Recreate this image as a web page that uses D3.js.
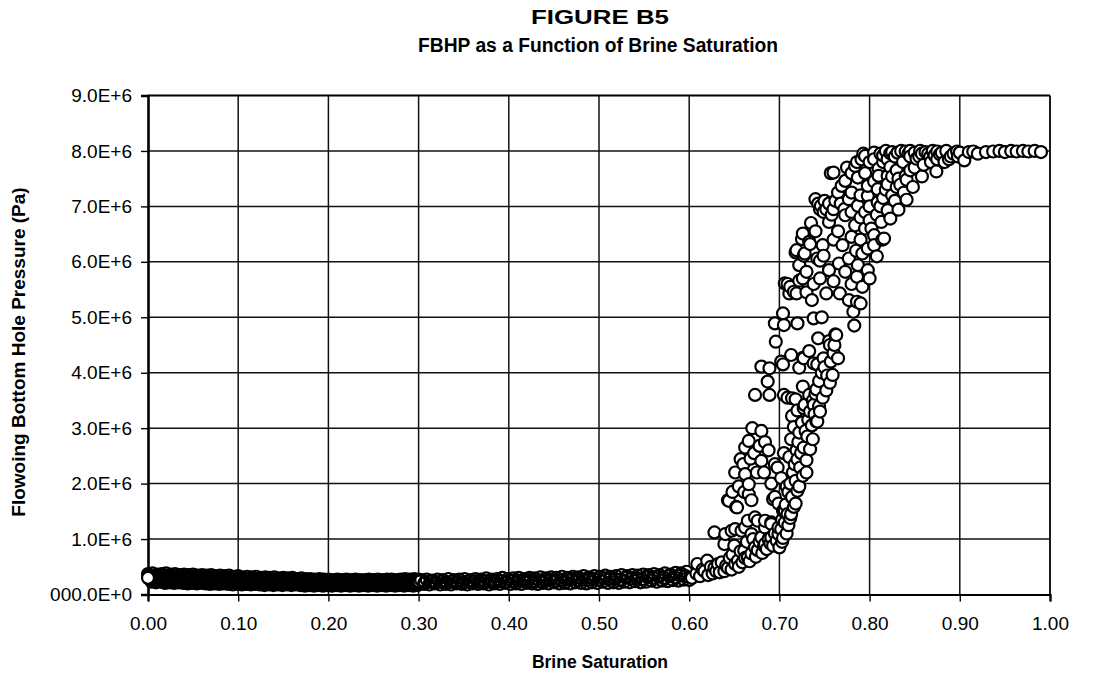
<!DOCTYPE html>
<html>
<head>
<meta charset="utf-8">
<script src="https://cdn.jsdelivr.net/npm/d3@7"></script>
<style>
  body { margin: 0; background: #fff; }
  svg { display: block; }
  text { font-family: "Liberation Sans", Arial, sans-serif; fill: #000; }
</style>
</head>
<body>
<svg id="chart" width="1096" height="675"></svg>
<script>
// Titles and axis labels
const titleLines = ["FIGURE B5", "FBHP as a Function of Brine Saturation"];
const xAxisTitle = "Brine Saturation";
const yAxisTitle = "Flowoing Bottom Hole Pressure (Pa)";

// Tick values and their printed labels
const xTickValues = [0, 0.1, 0.2, 0.3, 0.4, 0.5, 0.6, 0.7, 0.8, 0.9, 1.0];
const xTickLabels = ["0.00", "0.10", "0.20", "0.30", "0.40", "0.50", "0.60", "0.70", "0.80", "0.90", "1.00"];
const yTickValues = [0, 1e6, 2e6, 3e6, 4e6, 5e6, 6e6, 7e6, 8e6, 9e6];
const yTickLabels = ["000.0E+0", "1.0E+6", "2.0E+6", "3.0E+6", "4.0E+6", "5.0E+6", "6.0E+6", "7.0E+6", "8.0E+6", "9.0E+6"];

// Samples: [brine saturation, flowing bottom hole pressure in MPa]
// Low-saturation band (0.00 - 0.30), five overlapping streaks
const lowBandUpper = [
  [0.000,0.37],[0.005,0.38],[0.010,0.36],[0.015,0.37],[0.020,0.38],[0.025,0.36],[0.030,0.37],[0.035,0.35],
  [0.040,0.36],[0.045,0.35],[0.050,0.36],[0.055,0.34],[0.060,0.35],[0.065,0.34],[0.070,0.35],[0.075,0.33],
  [0.080,0.34],[0.085,0.33],[0.090,0.34],[0.095,0.32],[0.100,0.33],[0.105,0.31],[0.110,0.32],[0.115,0.31],
  [0.120,0.32],[0.125,0.30],[0.130,0.31],[0.135,0.30],[0.140,0.31],[0.145,0.29],[0.150,0.30],[0.155,0.29],
  [0.160,0.30],[0.165,0.28],[0.170,0.29],[0.175,0.28],[0.180,0.28],[0.185,0.27],[0.190,0.28],[0.195,0.27],
  [0.200,0.27],[0.205,0.26],[0.210,0.27],[0.215,0.26],[0.220,0.27],[0.225,0.26],[0.230,0.27],[0.235,0.26],
  [0.240,0.26],[0.245,0.27],[0.250,0.26],[0.255,0.27],[0.260,0.26],[0.265,0.27],[0.270,0.27],[0.275,0.26],
  [0.280,0.27],[0.285,0.28],[0.290,0.27],[0.295,0.28],[0.300,0.27]
];
const lowBandUpperMid = [
  [0.001,0.34],[0.006,0.33],[0.011,0.33],[0.016,0.34],[0.021,0.32],[0.026,0.33],[0.031,0.32],[0.036,0.31],
  [0.041,0.32],[0.046,0.31],[0.051,0.32],[0.056,0.30],[0.061,0.31],[0.066,0.30],[0.071,0.31],[0.076,0.29],
  [0.081,0.30],[0.086,0.29],[0.091,0.30],[0.096,0.28],[0.101,0.29],[0.106,0.28],[0.111,0.28],[0.116,0.27],
  [0.121,0.28],[0.126,0.27],[0.131,0.27],[0.136,0.26],[0.141,0.27],[0.146,0.26],[0.151,0.26],[0.156,0.25],
  [0.161,0.26],[0.166,0.25],[0.171,0.25],[0.176,0.24],[0.181,0.25],[0.186,0.24],[0.191,0.24],[0.196,0.25],
  [0.201,0.24],[0.206,0.24],[0.211,0.23],[0.216,0.24],[0.221,0.24],[0.226,0.23],[0.231,0.24],[0.236,0.24],
  [0.241,0.23],[0.246,0.24],[0.251,0.24],[0.256,0.23],[0.261,0.24],[0.266,0.24],[0.271,0.23],[0.276,0.24],
  [0.281,0.25],[0.286,0.24],[0.291,0.24],[0.296,0.25]
];
const lowBandMiddle = [
  [0.002,0.30],[0.007,0.28],[0.012,0.30],[0.017,0.29],[0.022,0.28],[0.027,0.29],[0.032,0.28],[0.037,0.27],
  [0.042,0.28],[0.047,0.27],[0.052,0.28],[0.057,0.26],[0.062,0.27],[0.067,0.26],[0.072,0.27],[0.077,0.25],
  [0.082,0.26],[0.087,0.25],[0.092,0.26],[0.097,0.24],[0.102,0.25],[0.107,0.24],[0.112,0.25],[0.117,0.24],
  [0.122,0.23],[0.127,0.24],[0.132,0.23],[0.137,0.24],[0.142,0.23],[0.147,0.22],[0.152,0.23],[0.157,0.22],
  [0.162,0.23],[0.167,0.22],[0.172,0.21],[0.177,0.22],[0.182,0.21],[0.187,0.22],[0.192,0.21],[0.197,0.22],
  [0.202,0.21],[0.207,0.22],[0.212,0.21],[0.217,0.20],[0.222,0.21],[0.227,0.22],[0.232,0.21],[0.237,0.20],
  [0.242,0.21],[0.247,0.22],[0.252,0.21],[0.257,0.20],[0.262,0.21],[0.267,0.22],[0.272,0.21],[0.277,0.22],
  [0.282,0.21],[0.287,0.22],[0.292,0.21],[0.297,0.22]
];
const lowBandLowerMid = [
  [0.003,0.26],[0.008,0.25],[0.013,0.26],[0.018,0.25],[0.023,0.25],[0.028,0.24],[0.033,0.25],[0.038,0.24],
  [0.043,0.24],[0.048,0.23],[0.053,0.24],[0.058,0.23],[0.063,0.23],[0.068,0.22],[0.073,0.23],[0.078,0.22],
  [0.083,0.22],[0.088,0.21],[0.093,0.22],[0.098,0.21],[0.103,0.21],[0.108,0.20],[0.113,0.21],[0.118,0.20],
  [0.123,0.20],[0.128,0.20],[0.133,0.19],[0.138,0.20],[0.143,0.19],[0.148,0.19],[0.153,0.20],[0.158,0.19],
  [0.163,0.19],[0.168,0.18],[0.173,0.19],[0.178,0.18],[0.183,0.19],[0.188,0.18],[0.193,0.18],[0.198,0.19],
  [0.203,0.18],[0.208,0.19],[0.213,0.18],[0.218,0.18],[0.223,0.19],[0.228,0.18],[0.233,0.19],[0.238,0.18],
  [0.243,0.19],[0.248,0.18],[0.253,0.19],[0.258,0.18],[0.263,0.19],[0.268,0.19],[0.273,0.18],[0.278,0.19],
  [0.283,0.19],[0.288,0.18],[0.293,0.19],[0.298,0.19]
];
const lowBandLower = [
  [0.004,0.23],[0.009,0.22],[0.014,0.23],[0.019,0.21],[0.024,0.22],[0.029,0.21],[0.034,0.22],[0.039,0.21],
  [0.044,0.20],[0.049,0.21],[0.054,0.20],[0.059,0.21],[0.064,0.20],[0.069,0.19],[0.074,0.20],[0.079,0.19],
  [0.084,0.20],[0.089,0.19],[0.094,0.18],[0.099,0.19],[0.104,0.18],[0.109,0.19],[0.114,0.18],[0.119,0.19],
  [0.124,0.18],[0.129,0.17],[0.134,0.18],[0.139,0.17],[0.144,0.18],[0.149,0.17],[0.154,0.18],[0.159,0.17],
  [0.164,0.18],[0.169,0.17],[0.174,0.16],[0.179,0.17],[0.184,0.16],[0.189,0.17],[0.194,0.16],[0.199,0.17],
  [0.204,0.16],[0.209,0.17],[0.214,0.16],[0.219,0.17],[0.224,0.16],[0.229,0.17],[0.234,0.16],[0.239,0.17],
  [0.244,0.16],[0.249,0.17],[0.254,0.16],[0.259,0.17],[0.264,0.16],[0.269,0.17],[0.274,0.16],[0.279,0.17],
  [0.284,0.16],[0.289,0.17],[0.294,0.16],[0.299,0.17]
];
// Mid-saturation band (0.30 - 0.60)
const midBandUpper = [
  [0.303,0.26],[0.309,0.27],[0.315,0.25],[0.321,0.27],[0.327,0.26],[0.333,0.28],[0.339,0.26],[0.345,0.27],
  [0.351,0.28],[0.357,0.26],[0.363,0.28],[0.369,0.27],[0.375,0.29],[0.381,0.27],[0.387,0.28],[0.393,0.30],
  [0.399,0.28],[0.405,0.29],[0.411,0.30],[0.417,0.28],[0.423,0.30],[0.429,0.29],[0.435,0.31],[0.441,0.29],
  [0.447,0.31],[0.453,0.30],[0.459,0.32],[0.465,0.30],[0.471,0.32],[0.477,0.31],[0.483,0.33],[0.489,0.31],
  [0.495,0.33],[0.501,0.32],[0.507,0.34],[0.513,0.32],[0.519,0.33],[0.525,0.35],[0.531,0.33],[0.537,0.35],
  [0.543,0.34],[0.549,0.36],[0.555,0.35],[0.561,0.37],[0.567,0.35],[0.573,0.38],[0.579,0.36],[0.585,0.39],
  [0.591,0.38],[0.597,0.41]
];
const midBandMiddle = [
  [0.301,0.23],[0.307,0.22],[0.313,0.23],[0.319,0.22],[0.325,0.23],[0.331,0.22],[0.337,0.23],[0.343,0.23],
  [0.349,0.22],[0.355,0.23],[0.361,0.24],[0.367,0.23],[0.373,0.24],[0.379,0.23],[0.385,0.24],[0.391,0.24],
  [0.397,0.23],[0.410,0.25],[0.422,0.26],[0.434,0.25],[0.446,0.27],[0.458,0.26],[0.470,0.28],[0.482,0.27],
  [0.494,0.28],[0.506,0.29],[0.518,0.28],[0.530,0.30],[0.542,0.29],[0.554,0.31],[0.566,0.32],[0.578,0.33],
  [0.590,0.34]
];
const midBandLower = [
  [0.306,0.19],[0.312,0.18],[0.318,0.20],[0.324,0.18],[0.330,0.19],[0.336,0.18],[0.342,0.20],[0.348,0.19],
  [0.354,0.18],[0.360,0.20],[0.366,0.19],[0.372,0.20],[0.378,0.18],[0.384,0.20],[0.390,0.19],[0.396,0.21],
  [0.402,0.19],[0.408,0.20],[0.414,0.19],[0.420,0.21],[0.426,0.20],[0.432,0.19],[0.438,0.21],[0.444,0.20],
  [0.450,0.22],[0.456,0.20],[0.462,0.21],[0.468,0.20],[0.474,0.22],[0.480,0.21],[0.486,0.20],[0.492,0.22],
  [0.498,0.21],[0.504,0.23],[0.510,0.21],[0.516,0.22],[0.522,0.21],[0.528,0.23],[0.534,0.22],[0.540,0.24],
  [0.546,0.22],[0.552,0.23],[0.558,0.25],[0.564,0.23],[0.570,0.25],[0.576,0.24],[0.582,0.26],[0.588,0.25],
  [0.594,0.27],[0.600,0.26],
  [0.404,0.24],[0.416,0.25],[0.428,0.24],[0.440,0.26],[0.452,0.25],[0.464,0.27],[0.476,0.26],[0.488,0.27],
  [0.500,0.27],[0.512,0.28],[0.524,0.27],[0.536,0.29],[0.548,0.28],[0.560,0.30],[0.572,0.30],[0.584,0.31],
  [0.596,0.33]
];
// Pressure build-up (0.60 - 0.72, up to 2 MPa)
const rampLow = [
  [0.603,0.30],[0.608,0.38],[0.609,0.55],[0.612,0.33],[0.615,0.45],[0.617,0.42],[0.620,0.61],[0.621,0.35],
  [0.624,0.50],[0.626,0.38],[0.628,0.48],[0.630,0.42],[0.632,0.55],[0.634,0.40],[0.636,0.58],[0.639,0.42],
  [0.639,0.91],[0.641,0.52],[0.643,0.48],[0.645,0.66],[0.647,0.45],[0.648,0.72],[0.650,0.88],[0.651,0.55],
  [0.654,0.61],[0.655,0.50],[0.657,0.78],[0.659,0.58],[0.661,0.79],[0.662,0.66],[0.664,0.95],[0.665,0.67],
  [0.667,0.60],[0.669,0.74],[0.671,1.00],[0.673,0.85],[0.674,0.68],[0.676,0.80],[0.678,0.95],[0.680,1.03],
  [0.681,0.75],[0.683,0.88],[0.684,0.91],[0.686,0.82],[0.688,1.00],[0.690,0.92],[0.691,1.03],[0.693,0.88],
  [0.695,1.10],[0.697,0.97],[0.699,1.09],[0.700,0.85],[0.702,1.18],[0.704,1.02],[0.628,1.12],[0.640,1.09],
  [0.647,1.15],[0.651,1.18],[0.658,1.15],[0.662,1.21],[0.665,1.33],[0.669,1.09],[0.673,1.39],[0.676,1.33],
  [0.684,1.21],[0.684,1.33],[0.691,1.30],[0.691,1.27],[0.699,1.21],[0.706,1.30],[0.709,1.45],[0.712,1.38],
  [0.643,1.70],[0.644,1.69],[0.652,1.58],[0.653,1.57],[0.661,1.85],[0.666,1.81],[0.669,1.70],[0.693,1.72],
  [0.695,1.76],[0.699,1.64],[0.704,1.51],[0.706,1.52],[0.714,1.75],[0.714,1.76],[0.718,1.64],[0.720,1.87],
  [0.716,1.58],[0.703,1.35],[0.707,1.62],[0.710,1.85],[0.713,1.45],[0.708,1.10],[0.703,0.95],[0.710,1.25],
  [0.655,1.95],[0.648,1.85]
];
// Pressure build-up (2 - 5.5 MPa)
const rampMid = [
  [0.651,2.20],[0.662,2.17],[0.666,1.99],[0.657,2.44],[0.680,2.41],[0.666,2.77],[0.662,2.65],[0.678,2.68],
  [0.680,2.95],[0.698,2.29],[0.691,2.00],[0.727,2.65],[0.734,2.62],[0.720,2.44],[0.723,2.29],[0.705,2.55],
  [0.711,2.48],[0.713,2.80],[0.716,3.02],[0.714,3.22],[0.720,3.32],[0.725,3.10],[0.722,2.92],[0.728,3.42],
  [0.718,3.52],[0.709,3.55],[0.731,2.85],[0.736,3.05],[0.739,3.25],[0.742,3.12],[0.726,2.14],[0.730,2.42],
  [0.718,2.05],[0.708,1.95],[0.715,2.20],[0.737,2.80],[0.744,3.40],[0.748,3.55],[0.752,3.68],[0.756,3.82],
  [0.745,3.30],[0.733,3.60],[0.726,3.75],[0.740,3.62],[0.702,2.10],[0.695,2.35],[0.688,2.60],[0.672,2.55],
  [0.673,3.60],[0.689,3.60],[0.680,4.11],[0.689,4.08],[0.687,3.84],[0.696,4.56],[0.695,4.89],[0.705,4.86],
  [0.720,4.89],[0.704,5.07],[0.702,4.20],[0.713,4.32],[0.727,4.26],[0.738,4.17],[0.749,4.26],[0.705,3.60],
  [0.714,3.54],[0.727,3.36],[0.738,3.42],[0.741,3.12],[0.743,4.62],[0.756,4.50],[0.763,4.68],[0.765,4.26],
  [0.759,3.96],[0.738,4.98],[0.747,5.00],[0.736,5.31],[0.752,5.43],[0.767,5.43],[0.777,5.31],[0.786,5.28],
  [0.733,4.39],[0.742,4.15],[0.755,4.57],[0.762,4.69],[0.704,4.15],[0.722,4.09],[0.726,4.27],[0.782,5.10],
  [0.783,4.85],[0.790,5.25],
  [0.712,2.00],[0.717,2.35],[0.719,2.60],[0.721,2.75],[0.724,2.55],[0.729,2.95],[0.732,3.15],[0.734,3.30],
  [0.737,3.50],[0.741,3.70],[0.744,3.85],[0.747,4.00],[0.750,4.10],[0.753,3.95],[0.757,4.20],[0.760,4.35],
  [0.761,4.50],[0.730,2.20],[0.722,1.95],[0.660,2.35],[0.668,2.45],[0.675,2.20],[0.684,2.75],[0.670,3.00],
  [0.683,2.20]
];
// Pressure build-up (5.5 - 7.9 MPa)
const rampHigh = [
  [0.709,5.60],[0.716,5.46],[0.722,5.66],[0.711,5.43],[0.719,6.21],[0.728,6.15],[0.726,6.51],[0.733,6.36],
  [0.742,6.06],[0.748,6.30],[0.722,5.94],[0.730,5.82],[0.706,5.61],[0.712,5.55],[0.719,5.43],[0.726,5.70],
  [0.718,6.17],[0.727,6.11],[0.725,6.41],[0.734,6.32],[0.745,6.02],[0.749,6.11],[0.773,5.82],[0.786,5.73],
  [0.798,5.85],[0.766,5.97],[0.777,6.06],[0.787,5.94],[0.798,6.24],[0.805,6.48],[0.740,7.13],[0.746,7.01],
  [0.749,6.90],[0.755,6.72],[0.762,7.10],[0.743,7.05],[0.752,6.95],[0.758,6.85],[0.773,6.84],[0.784,6.66],
  [0.795,6.90],[0.802,6.60],[0.777,7.13],[0.787,7.01],[0.798,7.19],[0.809,7.07],[0.820,6.93],[0.813,6.72],
  [0.823,6.78],[0.816,6.42],[0.805,6.30],[0.812,7.00],[0.814,6.40],[0.832,6.94],[0.841,7.12],[0.760,7.61],
  [0.773,7.46],[0.787,7.52],[0.798,7.37],[0.809,7.31],[0.820,7.55],[0.769,7.37],[0.784,7.73],[0.791,7.85],
  [0.757,7.60],[0.765,6.55],[0.770,6.30],[0.760,6.40],[0.790,6.40],[0.795,6.60],[0.780,7.25],[0.765,7.25],
  [0.800,7.00],[0.825,7.20],[0.830,7.35],
  [0.745,6.95],[0.750,7.10],[0.755,7.05],[0.760,6.95],[0.768,7.05],[0.772,6.95],[0.780,6.90],[0.790,6.80],
  [0.800,6.75],[0.808,6.85],[0.815,7.15],[0.818,7.30],[0.805,7.45],[0.795,7.60],[0.780,7.60],[0.775,7.70],
  [0.790,7.20],[0.785,6.20],[0.780,6.45],[0.792,6.15],[0.808,6.10],[0.800,5.70],[0.792,5.55],[0.780,5.60],
  [0.735,6.70],[0.740,6.55],[0.730,5.45],[0.738,5.60],[0.745,5.70],[0.755,5.85],[0.760,5.65]
];
// High-saturation plateau near 8 MPa
const plateau = [
  [0.795,7.91],[0.805,7.97],[0.820,7.85],[0.831,7.97],[0.793,7.95],[0.786,7.80],[0.810,7.68],[0.823,7.71],
  [0.837,7.80],[0.852,7.86],[0.867,7.89],[0.878,7.94],[0.893,7.95],[0.883,7.80],[0.874,7.63],[0.858,7.54],
  [0.841,7.48],[0.834,7.39],[0.825,7.54],[0.812,7.95],[0.818,8.00],[0.825,7.98],[0.840,7.99],[0.845,8.00],
  [0.850,7.97],[0.856,8.00],[0.862,7.98],[0.870,8.00],[0.875,7.99],[0.885,8.00],[0.897,7.99],[0.905,7.83],
  [0.910,7.98],[0.920,7.95],[0.929,7.98],[0.944,8.00],[0.957,8.00],[0.970,8.00],[0.983,8.00],[0.990,7.98],
  [0.835,8.00],[0.828,7.90],[0.845,7.90],[0.860,7.75],[0.865,7.95],[0.880,7.97],[0.890,7.90],[0.900,7.97],
  [0.915,7.99],[0.937,7.99],[0.950,7.98],[0.963,7.99],[0.976,7.99],
  [0.800,7.80],[0.815,7.80],[0.830,7.65],[0.845,7.65],[0.850,7.70],[0.855,7.90],[0.840,7.55],[0.832,7.50],
  [0.848,7.35],[0.820,7.40],[0.838,7.25],[0.828,7.10],[0.810,7.55],[0.868,7.80],[0.875,7.85],[0.888,7.85],
  [0.898,7.90],[0.805,7.85],[0.815,7.92],[0.823,7.96],[0.843,7.95],[0.858,7.95],[0.872,7.92]
];
// First recorded sample
const firstSample = [[0.000, 0.30]];

const svg = d3.select("#chart");
const W = 1096, H = 675;
const plot = { left: 148, right: 1050, top: 95.5, bottom: 594.5 };
const FONT = '"Liberation Sans", Arial, sans-serif';

const x = d3.scaleLinear().domain([0, 1]).range([plot.left, plot.right]);
const y = d3.scaleLinear().domain([0, 9e6]).range([plot.bottom, plot.top]);

svg.append("rect").attr("width", W).attr("height", H).attr("fill", "#fff");

// Gridlines
const grid = svg.append("g").attr("stroke", "#111").attr("stroke-width", 1.5);
grid.selectAll("line.v").data(xTickValues.slice(1, -1)).join("line")
  .attr("x1", d => x(d)).attr("x2", d => x(d))
  .attr("y1", plot.top).attr("y2", plot.bottom);
grid.selectAll("line.h").data(yTickValues.slice(1, -1)).join("line")
  .attr("x1", plot.left).attr("x2", plot.right)
  .attr("y1", d => y(d)).attr("y2", d => y(d));

// Plot frame
svg.append("line").attr("x1", plot.left).attr("x2", plot.right).attr("y1", plot.top).attr("y2", plot.top)
  .attr("stroke", "#000").attr("stroke-width", 2);
svg.append("line").attr("x1", plot.right).attr("x2", plot.right).attr("y1", plot.top).attr("y2", plot.bottom)
  .attr("stroke", "#000").attr("stroke-width", 1.8);

// Axes
const xAxis = d3.axisBottom(x).tickValues(xTickValues)
  .tickFormat((d, i) => xTickLabels[i]).tickSize(7).tickPadding(15);
const yAxis = d3.axisLeft(y).tickValues(yTickValues)
  .tickFormat((d, i) => yTickLabels[i]).tickSize(7).tickPadding(9);

const gx = svg.append("g").attr("transform", `translate(0,${plot.bottom})`).call(xAxis);
const gy = svg.append("g").attr("transform", `translate(${plot.left},0)`).call(yAxis);

[gx, gy].forEach(g => {
  g.selectAll("text").attr("fill", "#000").style("font-size", "19px").style("font-family", FONT);
  g.selectAll(".tick line").attr("stroke", "#000").attr("stroke-width", 1.4);
});
gx.select(".domain").attr("stroke", "#000").attr("stroke-width", 2.2);
gy.select(".domain").attr("stroke", "#000").attr("stroke-width", 2.6);

// Scatter markers: white-filled open circles
const marker = sel => sel
  .attr("cx", d => x(d[0]))
  .attr("cy", d => y(d[1] * 1e6))
  .attr("r", 6);

// Dense streaks along the low-pressure floor: fills first, then every outline on top
const drawStacked = (pts) => {
  const g = svg.append("g");
  g.append("g").selectAll("circle").data(pts).join("circle").call(marker)
    .attr("fill", "#fff");
  g.append("g").selectAll("circle").data(pts).join("circle").call(marker)
    .attr("fill", "none").attr("stroke", "#000").attr("stroke-width", 2.2);
};
drawStacked([].concat(lowBandUpper, lowBandUpperMid, lowBandMiddle, lowBandLowerMid, lowBandLower));
drawStacked([].concat(midBandUpper, midBandMiddle, midBandLower));

// Pressure build-up and plateau, drawn in order of increasing saturation
const rest = [].concat(rampLow, rampMid, rampHigh, plateau);
const ordered = d3.sort(rest, d => d[0]).concat(firstSample);
svg.append("g").selectAll("circle").data(ordered).join("circle").call(marker)
  .attr("fill", "#fff")
  .attr("stroke", "#000")
  .attr("stroke-width", 2.2);

// Titles
svg.append("text").attr("x", 600).attr("y", 24).attr("text-anchor", "middle")
  .attr("font-weight", "bold").style("font-size", "21px")
  .attr("textLength", 138).attr("lengthAdjust", "spacingAndGlyphs")
  .text(titleLines[0]);
svg.append("text").attr("x", 598).attr("y", 52).attr("text-anchor", "middle")
  .attr("font-weight", "bold").style("font-size", "20px")
  .attr("textLength", 360).attr("lengthAdjust", "spacingAndGlyphs")
  .text(titleLines[1]);

svg.append("text").attr("x", 600).attr("y", 668).attr("text-anchor", "middle")
  .attr("font-weight", "bold").style("font-size", "17.5px")
  .text(xAxisTitle);

svg.append("text").attr("transform", "translate(25,352) rotate(-90)")
  .attr("text-anchor", "middle")
  .attr("font-weight", "bold").style("font-size", "19px")
  .text(yAxisTitle);
</script>
</body>
</html>
